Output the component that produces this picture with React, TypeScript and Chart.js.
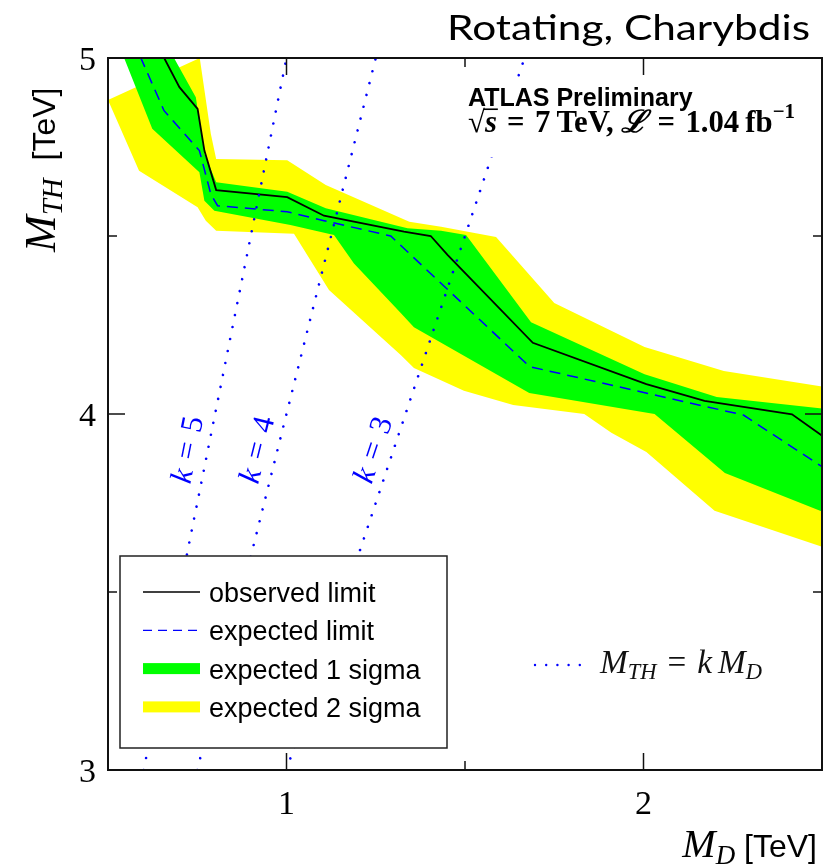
import React, { useEffect, useRef } from "react";
import { Chart, registerables } from "chart.js";

Chart.register(...registerables);

// Observed and expected lower limits on M_TH (TeV) versus M_D (TeV)
const observedMD = [0.6, 0.7, 0.751, 0.77, 0.803, 1.002, 1.105, 1.329, 1.404, 1.451, 1.69, 2.008, 2.171, 2.416, 2.506];
const observedMTH = [5.11, 4.918, 4.857, 4.74, 4.629, 4.609, 4.557, 4.512, 4.5, 4.447, 4.2, 4.084, 4.037, 3.999, 3.935];

const expectedMD = [0.55, 0.657, 0.756, 0.788, 0.807, 1.002, 1.105, 1.292, 1.681, 2.28, 2.506];
const expectedMTH = [5.096, 4.852, 4.74, 4.618, 4.585, 4.568, 4.543, 4.5, 4.133, 3.997, 3.848];

// 1 sigma band edges
const sigma1UpperMD = [0.5, 0.685, 0.746, 0.77, 0.803, 1.002, 1.11, 1.339, 1.433, 1.503, 1.685, 2.003, 2.205, 2.51];
const sigma1UpperMTH = [5.3, 5.0, 4.89, 4.73, 4.651, 4.624, 4.578, 4.522, 4.515, 4.503, 4.258, 4.112, 4.048, 4.014];
const sigma1LowerMD = [0.5, 0.624, 0.756, 0.77, 0.798, 1.011, 1.133, 1.189, 1.32, 1.357, 1.68, 2.031, 2.228, 2.51];
const sigma1LowerMTH = [5.114, 4.801, 4.679, 4.599, 4.571, 4.531, 4.503, 4.423, 4.284, 4.244, 4.059, 4.0, 3.834, 3.722];

// 2 sigma band edges
const sigma2UpperMD = [0.5, 0.757, 0.788, 0.803, 1.002, 1.11, 1.344, 1.433, 1.587, 1.75, 2.003, 2.225, 2.51];
const sigma2UpperMTH = [4.882, 5.0, 4.787, 4.716, 4.713, 4.643, 4.54, 4.526, 4.497, 4.312, 4.188, 4.121, 4.076];
const sigma2LowerMD = [0.5, 0.587, 0.751, 0.774, 0.803, 1.021, 1.119, 1.32, 1.357, 1.497, 1.635, 1.834, 1.91, 2.008, 2.199, 2.51];
const sigma2LowerMTH = [4.882, 4.683, 4.581, 4.543, 4.515, 4.506, 4.348, 4.166, 4.129, 4.065, 4.025, 4.0, 3.947, 3.893, 3.728, 3.624];

// Reference lines M_TH = k M_D (end points across the plotted M_TH range)
const kValues = [5, 4, 3];
const kLineMD = [
  [0.6, 1.0],
  [0.75, 1.25],
  [1.0, 1.6667],
];
const kLineMTH = [
  [3, 5],
  [3, 5],
  [3, 5],
];

// Axis ticks
const xMajorTicks = [1, 2];
const xMinorTicks = [1.5];
const yMajorTicks = [3, 4, 5];
const yMinorTicks = [3.5, 4.5];

const SERIF = '"Liberation Serif", "DejaVu Serif", serif';
const SANS = '"Liberation Sans", Arial, sans-serif';
const TITLE_FONT = 'Lato, "Open Sans", sans-serif';
const BLUE = "#0000ff";
const GREEN = "#00ff00";
const YELLOW = "#ffff00";
const SP = "\u2004"; // three-per-em space around relation signs

const pts = (xs: number[], ys: number[]) => xs.map((x, i) => ({ x, y: ys[i] }));
const polygon = (ux: number[], uy: number[], lx: number[], ly: number[]) =>
  pts(ux, uy).concat(pts(lx, ly).reverse());

type Part = { t: string; size: number; style?: string; family?: string; dy?: number; color?: string };

function partFont(p: Part, s: number) {
  return `${p.style ?? ""} ${p.size * s}px ${p.family ?? SERIF}`.trim();
}

function measureParts(ctx: CanvasRenderingContext2D, parts: Part[], s = 1) {
  let w = 0;
  for (const p of parts) {
    ctx.font = partFont(p, s);
    w += ctx.measureText(p.t).width;
  }
  return w;
}

// Draws a run of differently styled pieces of text, returns the x start of each piece
function drawParts(
  ctx: CanvasRenderingContext2D,
  parts: Part[],
  x: number,
  y: number,
  align: "left" | "right" | "center" = "left",
  s = 1
) {
  const w = measureParts(ctx, parts, s);
  let cx = align === "left" ? x : align === "right" ? x - w : x - w / 2;
  const starts: number[] = [];
  ctx.textAlign = "left";
  for (const p of parts) {
    ctx.font = partFont(p, s);
    if (p.color) ctx.fillStyle = p.color;
    starts.push(cx);
    ctx.fillText(p.t, cx, y + (p.dy ?? 0) * s);
    cx += ctx.measureText(p.t).width;
  }
  starts.push(cx);
  return starts;
}

const decorations = {
  id: "decorations",
  afterDatasetsDraw(chart: any) {
    const { ctx } = chart;
    const xs = chart.scales.x;
    const ys = chart.scales.y;
    ctx.save();
    ctx.textBaseline = "alphabetic";

    // k = ... labels along the reference lines
    kValues.forEach((k, i) => {
      const x1 = xs.getPixelForValue(kLineMD[i][0]);
      const y1 = ys.getPixelForValue(kLineMTH[i][0]);
      const x2 = xs.getPixelForValue(kLineMD[i][1]);
      const y2 = ys.getPixelForValue(kLineMTH[i][1]);
      const ang = Math.atan2(y2 - y1, x2 - x1);
      const yAt = ys.getPixelForValue(3.9);
      const xAt = x1 + ((yAt - y1) * (x2 - x1)) / (y2 - y1) - 21;
      ctx.save();
      ctx.translate(xAt, yAt);
      ctx.rotate(ang);
      ctx.fillStyle = BLUE;
      drawParts(
        ctx,
        [
          { t: "k", size: 31, style: "italic" },
          { t: SP + "=" + SP, size: 31 },
          { t: String(k), size: 31 },
        ],
        0,
        10,
        "center"
      );
      ctx.restore();
    });

    // Experiment label on a white block
    ctx.fillStyle = "#fff";
    ctx.fillRect(462, 81, 340, 76);
    ctx.fillStyle = "#000";
    ctx.font = `bold 25px ${SANS}`;
    ctx.textAlign = "left";
    ctx.fillText("ATLAS Preliminary", 468, 106);
    const lumiParts: Part[] = [
      { t: "√", size: 25, style: "bold" },
      { t: "s", size: 25, style: "italic bold" },
      { t: SP + "=" + SP + "7\u2009TeV, ", size: 25, style: "bold" },
      { t: "ℒ", size: 25, style: "italic bold" },
      { t: SP + "=" + SP + "1.04\u2009fb", size: 25, style: "bold" },
      { t: "−1", size: 17, style: "bold", dy: -11 },
    ];
    const sc = 327 / measureParts(ctx, lumiParts);
    const st = drawParts(ctx, lumiParts, 468, 132, "left", sc);
    ctx.strokeStyle = "#000";
    ctx.lineWidth = 1.6;
    ctx.beginPath();
    ctx.moveTo(st[1] - 1, 132 - 18.5 * sc);
    ctx.lineTo(st[2] + 1, 132 - 18.5 * sc);
    ctx.stroke();

    // Legend box
    const lx = 120, ly = 556, lw = 327, lh = 192;
    ctx.fillStyle = "#fff";
    ctx.fillRect(lx, ly, lw, lh);
    ctx.strokeStyle = "#222";
    ctx.lineWidth = 1.5;
    ctx.strokeRect(lx, ly, lw, lh);
    const rows = ["observed limit", "expected limit", "expected 1 sigma", "expected 2 sigma"];
    rows.forEach((label, i) => {
      const base = 602 + i * 38.3;
      const my = base - 10;
      if (i === 0) {
        ctx.strokeStyle = "#000";
        ctx.lineWidth = 1.3;
        ctx.setLineDash([]);
        ctx.beginPath();
        ctx.moveTo(143, my);
        ctx.lineTo(200, my);
        ctx.stroke();
      } else if (i === 1) {
        ctx.strokeStyle = BLUE;
        ctx.lineWidth = 1.3;
        ctx.setLineDash([9, 6]);
        ctx.beginPath();
        ctx.moveTo(143, my);
        ctx.lineTo(200, my);
        ctx.stroke();
        ctx.setLineDash([]);
      } else {
        ctx.fillStyle = i === 2 ? GREEN : YELLOW;
        ctx.fillRect(143, my - 5.5, 57, 11);
      }
      ctx.fillStyle = "#000";
      ctx.font = `27px ${SANS}`;
      ctx.fillText(label, 209, base);
    });

    // Reference-line key
    ctx.fillStyle = BLUE;
    for (let j = 0; j < 5; j++) {
      ctx.beginPath();
      ctx.arc(535 + j * 11.2, 665, 1.2, 0, Math.PI * 2);
      ctx.fill();
    }
    ctx.fillStyle = "#111";
    const keyParts: Part[] = [
      { t: "M", size: 31, style: "italic" },
      { t: "TH", size: 21, style: "italic", dy: 6 },
      { t: SP + "=" + SP, size: 31 },
      { t: "k", size: 31, style: "italic" },
      { t: " ", size: 22 },
      { t: "M", size: 31, style: "italic" },
      { t: "D", size: 21, style: "italic", dy: 6 },
    ];
    drawParts(ctx, keyParts, 600, 673, "left", 162 / measureParts(ctx, keyParts));
    ctx.restore();
  },
  afterDraw(chart: any) {
    const { ctx, chartArea: a } = chart;
    const xs = chart.scales.x;
    const ys = chart.scales.y;
    ctx.save();
    ctx.strokeStyle = "#111";
    ctx.lineWidth = 2;
    ctx.setLineDash([]);
    ctx.strokeRect(a.left, a.top, a.right - a.left, a.bottom - a.top);
    ctx.lineWidth = 1.5;
    const tick = (x1: number, y1: number, x2: number, y2: number) => {
      ctx.beginPath();
      ctx.moveTo(x1, y1);
      ctx.lineTo(x2, y2);
      ctx.stroke();
    };
    xMajorTicks.forEach((v) => {
      const px = xs.getPixelForValue(v);
      tick(px, a.bottom, px, a.bottom - 17);
      tick(px, a.top, px, a.top + 17);
    });
    xMinorTicks.forEach((v) => {
      const px = xs.getPixelForValue(v);
      tick(px, a.bottom, px, a.bottom - 9);
      tick(px, a.top, px, a.top + 9);
    });
    yMajorTicks.forEach((v) => {
      const py = ys.getPixelForValue(v);
      tick(a.left, py, a.left + 17, py);
      tick(a.right, py, a.right - 17, py);
    });
    yMinorTicks.forEach((v) => {
      const py = ys.getPixelForValue(v);
      tick(a.left, py, a.left + 9, py);
      tick(a.right, py, a.right - 9, py);
    });

    // Tick labels
    ctx.fillStyle = "#000";
    ctx.font = `34px ${SERIF}`;
    ctx.textBaseline = "alphabetic";
    ctx.textAlign = "right";
    yMajorTicks.forEach((v) => {
      ctx.fillText(String(v), 96, ys.getPixelForValue(v) + 12);
    });
    ctx.textAlign = "center";
    xMajorTicks.forEach((v) => {
      ctx.fillText(String(v), xs.getPixelForValue(v), 814);
    });

    // Axis titles
    const xTitle: Part[] = [
      { t: "M", size: 40, style: "italic" },
      { t: "D", size: 27, style: "italic", dy: 7 },
      { t: " [TeV]", size: 32, family: SANS },
    ];
    drawParts(ctx, xTitle, 817, 857, "right");
    ctx.save();
    ctx.translate(55, 252);
    ctx.rotate(-Math.PI / 2);
    const yTitle: Part[] = [
      { t: "M", size: 44, style: "italic" },
      { t: "TH", size: 29, style: "italic", dy: 7 },
      { t: "  [TeV]", size: 32, family: SANS },
    ];
    drawParts(ctx, yTitle, 0, 0, "left");
    ctx.restore();

    // Title, stretched horizontally to its full width
    ctx.font = `400 35px ${TITLE_FONT}`;
    const tw = ctx.measureText("Rotating, Charybdis").width;
    ctx.save();
    ctx.translate(810, 40);
    ctx.scale(363 / tw, 1);
    ctx.textAlign = "right";
    ctx.fillText("Rotating, Charybdis", 0, 0);
    ctx.restore();
    ctx.restore();
  },
};

export default function App() {
  const ref = useRef<HTMLCanvasElement | null>(null);

  useEffect(() => {
    document.body.style.margin = "0";
    const canvas = ref.current;
    if (!canvas) return;

    const kSets = kValues.map((k, i) => ({
      label: `k = ${k}`,
      data: pts(kLineMD[i], kLineMTH[i]),
      borderColor: BLUE,
      borderWidth: 2.6,
      borderDash: [0.01, 12.2],
      borderCapStyle: "round" as const,
      pointRadius: 0,
      fill: false,
      order: 1,
    }));

    const chart = new Chart(canvas, {
      type: "line",
      data: {
        datasets: [
          {
            label: "expected 2 sigma",
            data: polygon(sigma2UpperMD, sigma2UpperMTH, sigma2LowerMD, sigma2LowerMTH),
            borderColor: "rgba(0,0,0,0)",
            borderWidth: 0,
            backgroundColor: YELLOW,
            fill: "shape",
            pointRadius: 0,
            order: 6,
          },
          {
            label: "expected 1 sigma",
            data: polygon(sigma1UpperMD, sigma1UpperMTH, sigma1LowerMD, sigma1LowerMTH),
            borderColor: "rgba(0,0,0,0)",
            borderWidth: 0,
            backgroundColor: GREEN,
            fill: "shape",
            pointRadius: 0,
            order: 5,
          },
          {
            label: "expected limit",
            data: pts(expectedMD, expectedMTH),
            borderColor: BLUE,
            borderWidth: 1.5,
            borderDash: [11, 7],
            pointRadius: 0,
            fill: false,
            order: 3,
          },
          {
            label: "observed limit",
            data: pts(observedMD, observedMTH),
            borderColor: "#000",
            borderWidth: 1.8,
            pointRadius: 0,
            fill: false,
            order: 2,
          },
          ...kSets,
        ] as any,
      },
      options: {
        animation: false,
        responsive: false,
        events: [],
        layout: { padding: { left: 108, top: 58, right: 2, bottom: 97 } },
        elements: { line: { tension: 0 } },
        scales: {
          x: { type: "linear", min: 0.5, max: 2.5, display: false },
          y: { type: "linear", min: 3, max: 5, display: false },
        },
        plugins: {
          legend: { display: false },
          tooltip: { enabled: false },
        },
      },
      plugins: [decorations],
    });

    return () => chart.destroy();
  }, []);

  return <canvas ref={ref} width={824} height={867} style={{ display: "block" }} />;
}
